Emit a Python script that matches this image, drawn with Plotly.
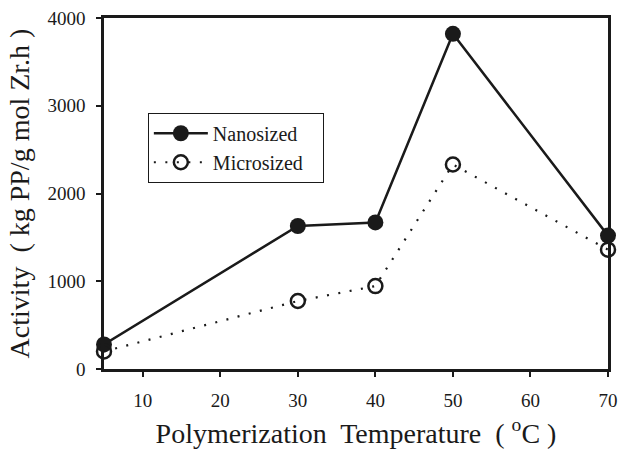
import plotly.graph_objects as go

temps = [5, 30, 40, 50, 70]
nano = [280, 1630, 1670, 3820, 1520]
micro = [200, 775, 945, 2330, 1360]
xticks = [10, 20, 30, 40, 50, 60, 70]
yticks = [0, 1000, 2000, 3000, 4000]

fig = go.Figure()
fig.add_trace(go.Scatter(
    x=temps, y=nano, name="Nanosized", mode="lines+markers",
    line=dict(color="#1a1a1a", width=2.5),
    marker=dict(symbol="circle", size=16, color="#1a1a1a"),
    cliponaxis=False,
))
fig.add_trace(go.Scatter(
    x=temps, y=micro, name="Microsized\u00a0\u00a0\u00a0", mode="lines+markers",
    line=dict(color="#1a1a1a", width=2.2, dash="2px,9.5px"),
    marker=dict(symbol="circle-open", size=14, color="#1a1a1a", line=dict(width=2.5)),
    cliponaxis=False,
))

font = "Liberation Serif"
fig.update_layout(
    width=620, height=452,
    margin=dict(l=104, r=12, t=18, b=83, autoexpand=False),
    paper_bgcolor="white", plot_bgcolor="white",
    font=dict(family=font, color="#1a1a1a"),
    showlegend=True,
    legend=dict(
        x=0.087, y=0.73, xanchor="left", yanchor="top",
        bordercolor="#1a1a1a", borderwidth=1, bgcolor="white",
        font=dict(size=20, family=font), itemwidth=54,
        tracegroupgap=0,
    ),
    xaxis=dict(
        range=[5, 70], tickvals=xticks, ticks="outside", ticklen=5,
        tickwidth=1.5, tickcolor="#1a1a1a", automargin=False,
        showline=True, linecolor="#1a1a1a", linewidth=2.5, mirror=True,
        showgrid=False, zeroline=False, ticklabelstandoff=7,
        tickfont=dict(size=19, family=font),
        title=dict(text="Polymerization  Temperature  ( <sup>o</sup>C )",
                   font=dict(size=28, family=font), standoff=14),
    ),
    yaxis=dict(
        range=[0, 4000], tickvals=yticks, ticks="outside", ticklen=5,
        tickwidth=1.5, tickcolor="#1a1a1a", automargin=False,
        showline=True, linecolor="#1a1a1a", linewidth=2.5, mirror=True,
        showgrid=False, zeroline=False, ticklabelstandoff=7,
        tickfont=dict(size=19, family=font),
        title=dict(text="Activity  ( kg PP/g mol Zr.h )",
                   font=dict(size=28, family=font), standoff=10),
    ),
)

fig.write_html("out.html")
